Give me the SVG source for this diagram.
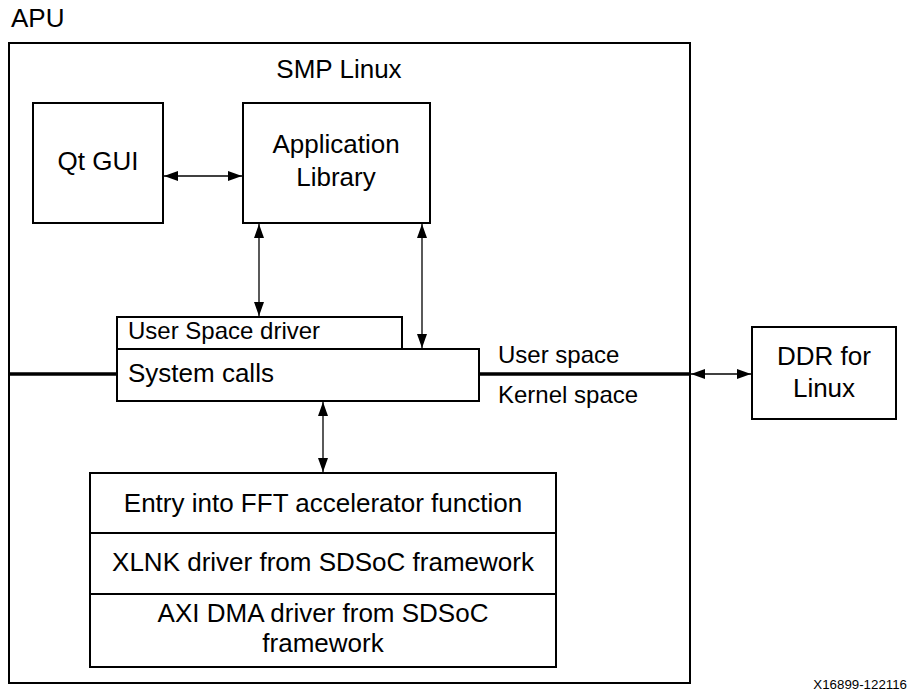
<svg xmlns="http://www.w3.org/2000/svg" width="909" height="691" viewBox="0 0 909 691">
<defs>
<marker id="ah" viewBox="0 0 14 10" refX="14" refY="5" markerWidth="14" markerHeight="10" markerUnits="userSpaceOnUse" orient="auto-start-reverse">
<path d="M0,0 L14,5 L0,10 Z" fill="#000"/>
</marker>
</defs>
<style>
text{font-family:"Liberation Sans",Arial,sans-serif;fill:#000}
.box{fill:#fff;stroke:#000;stroke-width:2}
.c{text-anchor:middle}
.f26{font-size:26px}
.f24{font-size:24px}
.conn{stroke:#000;stroke-width:1.3;fill:none;marker-start:url(#ah);marker-end:url(#ah)}
.thick{stroke:#000;stroke-width:3.5;fill:none}
</style>
<rect width="909" height="691" fill="#fff"/>
<g id="apu">
<rect class="box" x="9" y="43" width="681" height="640"/>
<text class="f26" x="11" y="27">APU</text>
<text class="f26 c" x="339" y="78">SMP Linux</text>
</g>
<g id="bus">
<line class="thick" x1="9" y1="374" x2="117" y2="374"/>
<line class="thick" x1="479" y1="374" x2="690" y2="374"/>
<text class="f24" x="498" y="363">User space</text>
<text class="f24" x="498" y="403">Kernel space</text>
</g>
<g id="qtgui">
<rect class="box" x="33" y="103" width="130" height="120"/>
<text class="f26 c" x="98" y="170">Qt GUI</text>
</g>
<g id="applib">
<rect class="box" x="243" y="103" width="187" height="120"/>
<text class="f26 c" x="336" y="153">Application</text>
<text class="f26 c" x="336" y="186">Library</text>
</g>
<g id="usdriver">
<rect class="box" x="117" y="317" width="285" height="32"/>
<text class="f24" x="128" y="339">User Space driver</text>
</g>
<g id="syscalls">
<rect class="box" x="117" y="349" width="362" height="52"/>
<text class="f26" x="128" y="382">System calls</text>
</g>
<g id="ddr">
<rect class="box" x="752" y="327" width="144" height="92"/>
<text class="f26 c" x="824" y="365">DDR for</text>
<text class="f26 c" x="824" y="397">Linux</text>
</g>
<g id="fft">
<rect class="box" x="90" y="473" width="466" height="194"/>
<line stroke="#000" stroke-width="2" x1="90" y1="533" x2="556" y2="533"/>
<line stroke="#000" stroke-width="2" x1="90" y1="594" x2="556" y2="594"/>
<text class="f26 c" x="323" y="512">Entry into FFT accelerator function</text>
<text class="f26 c" x="323" y="571">XLNK driver from SDSoC framework</text>
<text class="f26 c" x="323" y="622">AXI DMA driver from SDSoC</text>
<text class="f26 c" x="323" y="652">framework</text>
</g>
<g id="connectors">
<line class="conn" x1="164" y1="176" x2="242" y2="176"/>
<line class="conn" x1="259" y1="224" x2="259" y2="316"/>
<line class="conn" x1="422" y1="224" x2="422" y2="348"/>
<line class="conn" x1="323" y1="402" x2="323" y2="472"/>
<line class="conn" x1="691" y1="374" x2="751" y2="374"/>
</g>
<text x="907" y="689" font-size="13.3" text-anchor="end">X16899-122116</text>
</svg>
